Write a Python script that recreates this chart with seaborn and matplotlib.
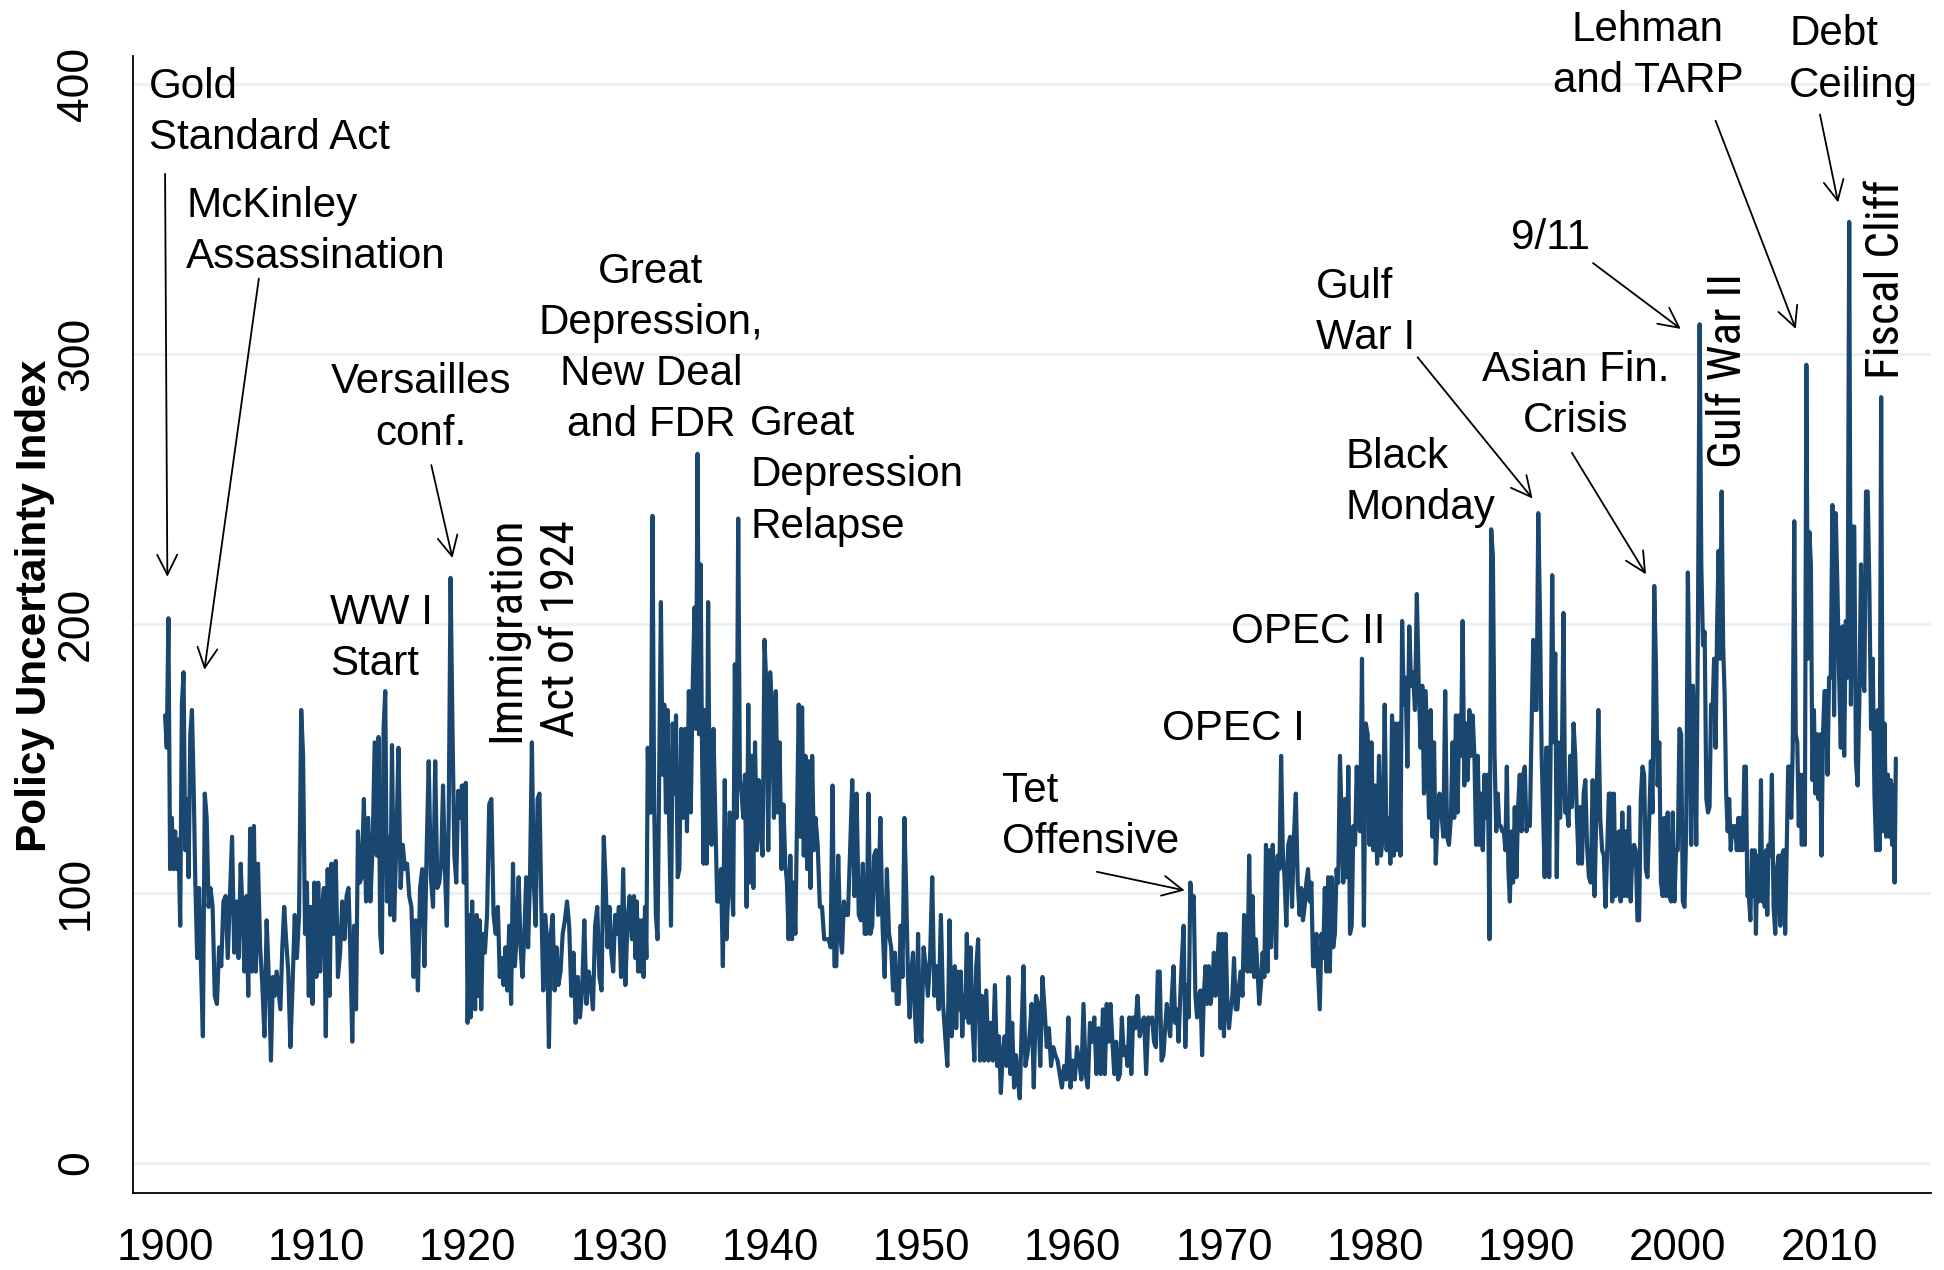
import matplotlib
matplotlib.use("Agg")
import matplotlib.pyplot as plt
from matplotlib import font_manager
import seaborn as sns
import pandas as pd

# ---- data: readings per year (values spread evenly within each year) ----
d1900 = [
    [166, 154, 202, 109, 128, 109, 123, 109, 120],
    [88, 170, 182, 116, 135, 106, 159, 168, 140],
    [104, 76, 102, 73, 47, 137, 128, 95],
    [102, 95, 62, 59, 80, 73, 97],
    [99, 76, 99, 121, 78, 97, 76],
    [111, 92, 71, 99, 62, 124, 71, 125],
    [71, 111, 80, 66, 47, 90, 69],
    [38, 69, 62, 71, 64, 57, 80, 95],
    [83, 71, 43, 66, 92, 76, 92],
    [168, 151, 85, 104, 62, 95, 59, 104],
]
d1910 = [
    [69, 104, 71, 95, 102, 47, 109, 62],
    [111, 85, 112, 69, 78, 97, 83],
    [99, 102, 78, 45, 88, 57, 123, 104],
    [106, 135, 97, 128, 97, 116, 156],
    [114, 158, 85, 78, 161, 175, 97, 121, 92],
    [155, 90, 118, 154, 102, 118, 109],
    [111, 99, 95, 69, 90, 64, 102],
    [109, 73, 114, 149, 106, 95, 149],
    [102, 104, 111, 140, 109, 88, 128, 217],
    [161, 114, 104, 138, 128, 140, 104, 141],
]
d1920 = [
    [52, 92, 54, 97, 69, 57, 92, 62, 90, 57],
    [85, 78, 92, 133, 135, 92, 85],
    [95, 69, 76, 66, 80, 64, 88, 59],
    [111, 73, 85, 106, 80, 69, 85, 106],
    [80, 106, 156, 104, 88, 135, 137, 95],
    [64, 92, 83, 43, 85, 92, 64, 80],
    [66, 71, 85, 90, 97, 88, 62],
    [78, 52, 69, 54, 64, 90, 59],
    [71, 66, 57, 88, 95, 69, 64],
    [121, 104, 80, 95, 78, 71, 92, 85],
]
d1930 = [
    [95, 69, 109, 66, 90, 99, 83],
    [99, 76, 97, 71, 90, 71, 90, 69, 95, 76, 154],
    [130, 130, 240, 133, 92, 83, 144, 208, 144],
    [170, 130, 168, 123, 88, 163, 137, 166, 106],
    [109, 161, 128, 161, 123, 175, 130, 175],
    [206, 161, 263, 159, 222, 151, 111, 168, 111, 208],
    [133, 118, 161, 128, 97, 97, 109, 73],
    [142, 83, 99, 130, 106, 92, 185, 128, 239],
    [142, 137, 128, 144, 95, 170, 104, 151, 102],
    [156, 116, 142, 123, 114, 194, 177, 116],
]
d1940 = [
    [182, 168, 128, 175, 130, 156, 109, 133],
    [111, 104, 83, 114, 83, 104, 85, 128, 170],
    [121, 169, 114, 151, 109, 149, 102, 151, 116],
    [128, 118, 95, 95, 83, 83, 83],
    [80, 140, 73, 73, 114, 85, 78, 97],
    [92, 92, 116, 142, 99, 137, 92],
    [90, 111, 85, 85, 137, 85, 88, 114],
    [116, 92, 128, 88, 69, 109, 85],
    [80, 64, 78, 59, 59, 88, 69, 128],
    [99, 69, 54, 71, 78, 57, 45, 85, 52],
]
d1950 = [
    [45, 80, 73, 62, 76, 106, 62],
    [73, 57, 92, 59, 47, 36, 90],
    [47, 59, 73, 50, 71, 57, 71, 47, 62, 54],
    [85, 52, 80, 52, 38, 73, 83, 38],
    [62, 38, 64, 38, 52, 38, 66],
    [36, 47, 26, 40, 47, 36, 69, 33],
    [52, 28, 40, 31, 24, 50, 73, 36],
    [40, 47, 59, 28, 62, 59, 36],
    [69, 57, 43, 50, 36, 43, 40],
    [38, 33, 28, 36, 31, 54, 28],
]
d1960 = [
    [38, 31, 43, 38, 31, 59, 33],
    [28, 52, 45, 54, 33, 50, 33],
    [57, 33, 59, 45, 59, 45, 33, 45],
    [31, 33, 54, 40, 43, 36, 54, 33],
    [54, 50, 62, 47, 52, 54, 33],
    [54, 52, 54, 45, 43, 71, 71, 38],
    [40, 50, 59, 52, 47, 62, 73, 52, 57],
    [45, 62, 76, 88, 43, 66, 54, 104, 95],
    [99, 62, 54, 62, 64, 40, 62, 73, 59],
    [73, 59, 64, 78, 62, 73, 85, 50, 85],
]
d1970 = [
    [47, 85, 59, 50, 57, 62, 76, 57, 57],
    [66, 71, 62, 92, 88, 71, 114, 71, 99],
    [69, 83, 71, 59, 66, 78, 69, 118, 71],
    [116, 80, 118, 104, 76, 114, 109, 151, 116],
    [106, 88, 118, 121, 95, 121, 137, 104],
    [92, 102, 90, 95, 104, 109, 97, 104, 73],
    [73, 85, 71, 57, 85, 76, 102, 71, 106],
    [71, 106, 80, 85, 109, 104, 151, 128, 104],
    [135, 106, 147, 85, 88, 125, 118, 147, 125],
    [123, 187, 88, 163, 159, 118, 156, 116],
]
d1980 = [
    [140, 111, 151, 114, 121, 170, 116, 128],
    [111, 166, 114, 163, 116, 163, 114, 201, 170],
    [180, 147, 199, 177, 182, 168, 211, 177],
    [154, 177, 137, 175, 151, 128, 168, 121, 156],
    [111, 128, 137, 130, 121, 175, 121, 118],
    [128, 156, 128, 166, 130, 166, 151, 201, 140],
    [163, 142, 168, 151, 166, 151, 118, 151, 118],
    [137, 116, 144, 128, 144, 83, 235, 225, 151],
    [123, 137, 125, 125, 123, 123, 116, 147, 109, 97],
    [123, 104, 132, 106, 132, 144, 123, 144, 147],
]
d1990 = [
    [123, 128, 125, 161, 194, 168, 168, 241, 204],
    [151, 130, 106, 154, 154, 106, 156, 218, 156, 189],
    [106, 156, 128, 147, 204, 130, 132, 125, 151],
    [132, 163, 151, 128, 111, 132, 111, 137, 142],
    [118, 106, 104, 142, 99, 132, 168, 128],
    [116, 114, 95, 116, 137, 137, 97, 137, 99],
    [121, 123, 97, 130, 99, 123, 99, 132, 97],
    [116, 118, 116, 90, 90, 135, 147, 144, 109],
    [106, 128, 149, 130, 214, 185, 140, 156, 104],
    [99, 128, 99, 130, 99, 97, 130, 97, 116],
]
d2000 = [
    [116, 161, 159, 97, 95, 123, 219, 175, 118],
    [177, 159, 118, 199, 311, 222, 192, 197, 135],
    [130, 132, 170, 168, 187, 154, 199, 227, 187, 249],
    [192, 173, 137, 123, 135, 116, 125, 121, 125, 116],
    [128, 116, 128, 116, 147, 147, 99, 99, 90, 116],
    [99, 116, 85, 114, 97, 104, 142, 97, 114, 95, 116, 92],
    [118, 114, 144, 95, 85, 109, 114, 88, 114],
    [116, 85, 116, 147, 147, 128, 154, 238, 159, 156],
    [125, 144, 118, 144, 118, 296, 187, 234, 222, 142],
    [168, 137, 159, 135, 159, 114, 159, 175, 175, 144],
]
d2010 = [
    [180, 180, 244, 166, 241, 213, 180, 154, 199],
    [151, 201, 180, 349, 170, 236, 236, 149, 140],
    [170, 222, 180, 175, 249, 249, 213, 161, 187],
    [137, 116, 168, 116, 284, 123, 163, 121, 144],
    [121, 142, 118, 140, 104, 150],          # 2014: monthly, Jan-Jun
]
decade_starts = [1900, 1910, 1920, 1930, 1940, 1950, 1960, 1970, 1980, 1990, 2000, 2010]
decades = [d1900, d1910, d1920, d1930, d1940, d1950, d1960, d1970, d1980, d1990, d2000, d2010]
partial_year = 2014

years_x, vals = [], []
for start, dec in zip(decade_starts, decades):
    for k, row in enumerate(dec):
        yr = start + k
        n = 12 if yr == partial_year else len(row)
        for i, v in enumerate(row):
            years_x.append(yr + i / n)
            vals.append(v)
df = pd.DataFrame({"year": years_x, "epu": vals})

xticks = list(range(1900, 2011, 10))
yticks = [0, 100, 200, 300, 400]

# annotations: (text, x, y, ha, rotated)
labels = [
    ("Gold\nStandard Act", 1898.93, 389.5, "left", False),
    ("McKinley\nAssassination", 1901.39, 345.5, "left", False),
    ("Versailles\nconf.", 1916.92, 280.0, "center", False),
    ("WW I\nStart", 1910.89, 194.5, "left", False),
    ("Immigration\nAct of 1924", 1924.34, 198.1, "center", True),
    ("Great\nDepression,\nNew Deal\nand FDR", 1932.12, 302.0, "center", False),
    ("Great\nDepression\nRelapse", 1938.68, 255.0, "left", False),
    ("Tet\nOffensive", 1955.32, 128.5, "left", False),
    ("OPEC I", 1965.89, 161.0, "left", False),
    ("OPEC II", 1970.48, 197.0, "left", False),
    ("Gulf\nWar I", 1976.06, 315.5, "left", False),
    ("Black\nMonday", 1978.02, 252.5, "left", False),
    ("9/11", 1989.0, 343.0, "left", False),
    ("Asian Fin.\nCrisis", 1993.27, 284.5, "center", False),
    ("Gulf War II", 2003.35, 293.7, "center", True),
    ("Lehman\nand TARP", 1998.02, 410.8, "center", False),
    ("Debt\nCeiling", 2007.37, 409.0, "left", False),
    ("Fiscal Cliff", 2013.76, 327.7, "center", True),
]
arrows = [
    ((1900.0, 366.8), (1900.15, 217.4)),
    ((1906.2, 328.0), (1902.6, 182.9)),
    ((1917.6, 258.8), (1919.0, 224.3)),
    ((1961.6, 108.0), (1967.4, 101.1)),
    ((1982.8, 298.8), (1990.4, 246.4)),
    ((1994.4, 333.7), (2000.2, 309.3)),
    ((1993.0, 263.4), (1997.9, 218.3)),
    ((2002.5, 386.5), (2007.8, 309.3)),
    ((2009.4, 388.8), (2010.6, 356.2)),
]

# ---- style ----
sns.set_theme(style="white")
plt.rcParams["font.family"] = ["Liberation Sans", "DejaVu Sans"]

# find a narrow / condensed face for the rotated labels
narrow_props = None
for f in font_manager.fontManager.ttflist:
    nm = f.name
    if ("Narrow" in nm or "Condensed" in nm) and f.weight in (400, "normal", "regular") \
            and f.style == "normal":
        narrow_props = dict(family=[nm])
        if "Liberation" in nm or "Arial" in nm:
            break
if narrow_props is None:
    for f in font_manager.fontManager.ttflist:
        if f.stretch in ("condensed", "semi-condensed") and f.style == "normal" \
                and f.weight in (400, "normal", "regular"):
            narrow_props = dict(family=[f.name], stretch=f.stretch)
            break

fig = plt.figure(figsize=(19.44, 12.70), dpi=100)
ax = fig.add_axes([133 / 1944, 1 - 1193 / 1270, (1931 - 133) / 1944, (1193 - 56) / 1270])

sns.lineplot(data=df, x="year", y="epu", ax=ax, color="#1a476f", linewidth=3.0,
             estimator=None, sort=False, zorder=3)

ax.set_xlim(1897.88, 2016.74)
ax.set_ylim(-11.1, 410.5)
ax.set_xticks(xticks)
ax.set_xticklabels([str(t) for t in xticks])
ax.set_yticks(yticks)
ax.set_yticklabels([str(t) for t in yticks], rotation=90, va="center")
ax.set_xlabel("")
ax.set_ylabel("")
ax.yaxis.grid(True, color="#eaf2f3", linewidth=2.2, zorder=0)
ax.xaxis.grid(False)
ax.set_axisbelow(True)
for s in ["top", "right"]:
    ax.spines[s].set_visible(False)
for s in ["left", "bottom"]:
    ax.spines[s].set_color("black")
    ax.spines[s].set_linewidth(1.3)
ax.tick_params(axis="both", direction="out", length=12, width=1.3, color="black",
               labelcolor="black")
ax.tick_params(axis="x", labelsize=31.5, pad=13)
ax.tick_params(axis="y", labelsize=32, pad=14)

fig.text(35 / 1944, 1 - 606 / 1270, "Policy Uncertainty Index", rotation=90,
         ha="center", va="center", fontsize=30.5, fontweight="bold", color="black")

for txt, x, y, ha, rot in labels:
    if rot:
        if narrow_props is not None:
            kw = dict(fontsize=34, **narrow_props)
        else:
            kw = dict(fontsize=31)
        ax.text(x, y, txt, ha="center", va="center", multialignment="center",
                rotation=90, color="black", clip_on=False, linespacing=1.3, **kw)
    else:
        ax.text(x, y, txt, ha=ha, va="center", multialignment=ha, fontsize=30.3,
                color="black", clip_on=False, linespacing=1.36)

for start, end in arrows:
    ax.annotate("", xy=end, xytext=start,
                arrowprops=dict(arrowstyle="->,head_length=1.2,head_width=0.6",
                                lw=1.3, color="black", shrinkA=0, shrinkB=0),
                annotation_clip=False)

fig.savefig("out.png", dpi=100)
